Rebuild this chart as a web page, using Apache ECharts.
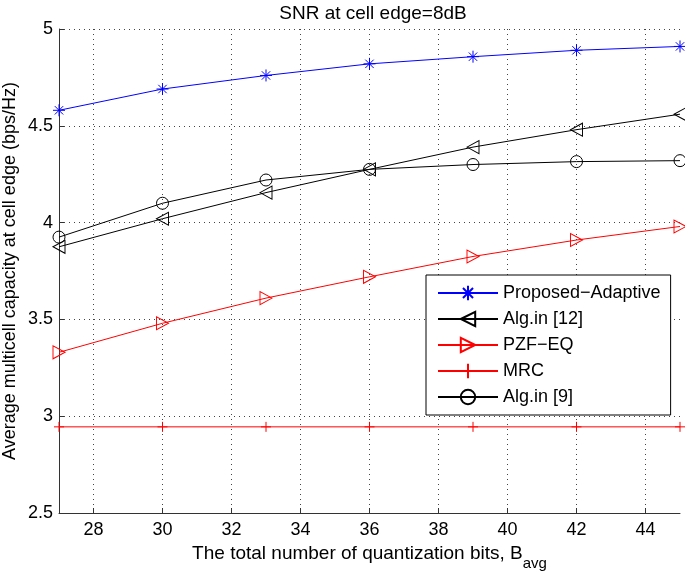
<!DOCTYPE html>
<html>
<head>
<meta charset="utf-8">
<script src="https://cdn.jsdelivr.net/npm/echarts@6/dist/echarts.min.js"></script>
<style>html,body{margin:0;padding:0;background:#fff;}#c{width:685px;height:573px;}</style>
</head>
<body>
<div id="c"></div>
<script>
const xBits = [27, 30, 33, 36, 39, 42, 45];
const xTicks = [28, 30, 32, 34, 36, 38, 40, 42, 44];
const proposed = [4.58, 4.69, 4.76, 4.82, 4.857, 4.89, 4.91];
const alg12 = [3.875, 4.02, 4.155, 4.275, 4.39, 4.48, 4.56];
const pzf = [3.33, 3.48, 3.61, 3.72, 3.825, 3.91, 3.98];
const mrc = [2.945, 2.945, 2.945, 2.945, 2.945, 2.945, 2.945];
const alg9 = [3.925, 4.10, 4.22, 4.275, 4.30, 4.315, 4.32];
const names = ['Proposed\u2212Adaptive', 'Alg.in [12]', 'PZF\u2212EQ', 'MRC', 'Alg.in [9]'];

const FONT = "'Liberation Sans', Arial, Helvetica, sans-serif";
const pairs = (ys) => xBits.map((x, i) => [x, ys[i]]);

const SYM = {
  star: 'path://M5 0 L5 10 M0 5 L10 5 M1.5 1.5 L8.5 8.5 M1.5 8.5 L8.5 1.5',
  left: 'path://M0 5 L10 0 L10 10 Z',
  right: 'path://M10 5 L0 0 L0 10 Z',
  plus: 'path://M5 0 L5 10 M0 5 L10 5'
};

function mk(name, data, color, symbol, size) {
  return {
    name: name, type: 'line', data: pairs(data),
    symbol: symbol, symbolSize: size, showSymbol: true,
    lineStyle: {color: color, width: 1},
    itemStyle: {color: 'rgba(0,0,0,0)', borderColor: color, borderWidth: 1},
    emphasis: {disabled: true}, animation: false, z: 3
  };
}

const chart = echarts.init(document.getElementById('c'));
chart.setOption({
  animation: false,
  title: {
    text: 'SNR at cell edge=8dB', left: 368, top: -1, textAlign: 'center',
    textStyle: {fontFamily: FONT, fontSize: 19, fontWeight: 'normal', color: '#000'}
  },
  grid: {left: 59, right: 5, top: 29, bottom: 60, containLabel: false, outerBoundsMode: 'none'},
  legend: {
    orient: 'vertical', left: 426, top: 275,
    data: names,
    itemWidth: 60, itemHeight: 18, itemGap: 6,
    padding: [8, 10, 8, 11],
    backgroundColor: '#fff', borderColor: '#000', borderWidth: 1,
    textStyle: {fontFamily: FONT, fontSize: 18, color: '#000', lineHeight: 20},
    selectedMode: false
  },
  xAxis: {
    type: 'value', min: 27, max: 45,
    name: '{a|The total number of quantization bits, B}{s|avg}',
    nameLocation: 'middle', nameGap: 31, nameMoveOverlap: false,
    nameTextStyle: {
      rich: {
        a: {fontFamily: FONT, fontSize: 19, color: '#000', verticalAlign: 'bottom', padding: [0, 0, 8, 0]},
        s: {fontFamily: FONT, fontSize: 15, color: '#000', verticalAlign: 'bottom'}
      }
    },
    axisLine: {lineStyle: {color: '#333', width: 1}},
    axisTick: {inside: true, length: 5, customValues: xTicks, lineStyle: {color: '#333'}},
    axisLabel: {customValues: xTicks, fontFamily: FONT, fontSize: 18, color: '#000', margin: 8},
    splitLine: {show: true, lineStyle: {color: '#444', type: [1, 4], width: 1}}
  },
  yAxis: {
    type: 'value', min: 2.5, max: 5, interval: 0.5,
    name: 'Average multicell capacity at cell edge (bps/Hz)',
    nameLocation: 'middle', nameGap: 40, nameMoveOverlap: false,
    nameTextStyle: {fontFamily: FONT, fontSize: 18, color: '#000'},
    axisLine: {show: true, lineStyle: {color: '#333', width: 1}},
    axisTick: {show: true, inside: true, length: 5, lineStyle: {color: '#333'}},
    axisLabel: {fontFamily: FONT, fontSize: 18, color: '#000', margin: 6,
      formatter: (v) => String(+v.toFixed(1))},
    splitLine: {show: true, lineStyle: {color: '#444', type: [1, 4], width: 1}}
  },
  series: [
    mk(names[0], proposed, '#0000ff', SYM.star, 12),
    mk(names[1], alg12, '#000000', SYM.left, [12, 13]),
    mk(names[2], pzf, '#ff0000', SYM.right, [12, 13]),
    mk(names[3], mrc, '#ff0000', SYM.plus, 10),
    mk(names[4], alg9, '#000000', 'circle', 12)
  ]
});
</script>
</body>
</html>
